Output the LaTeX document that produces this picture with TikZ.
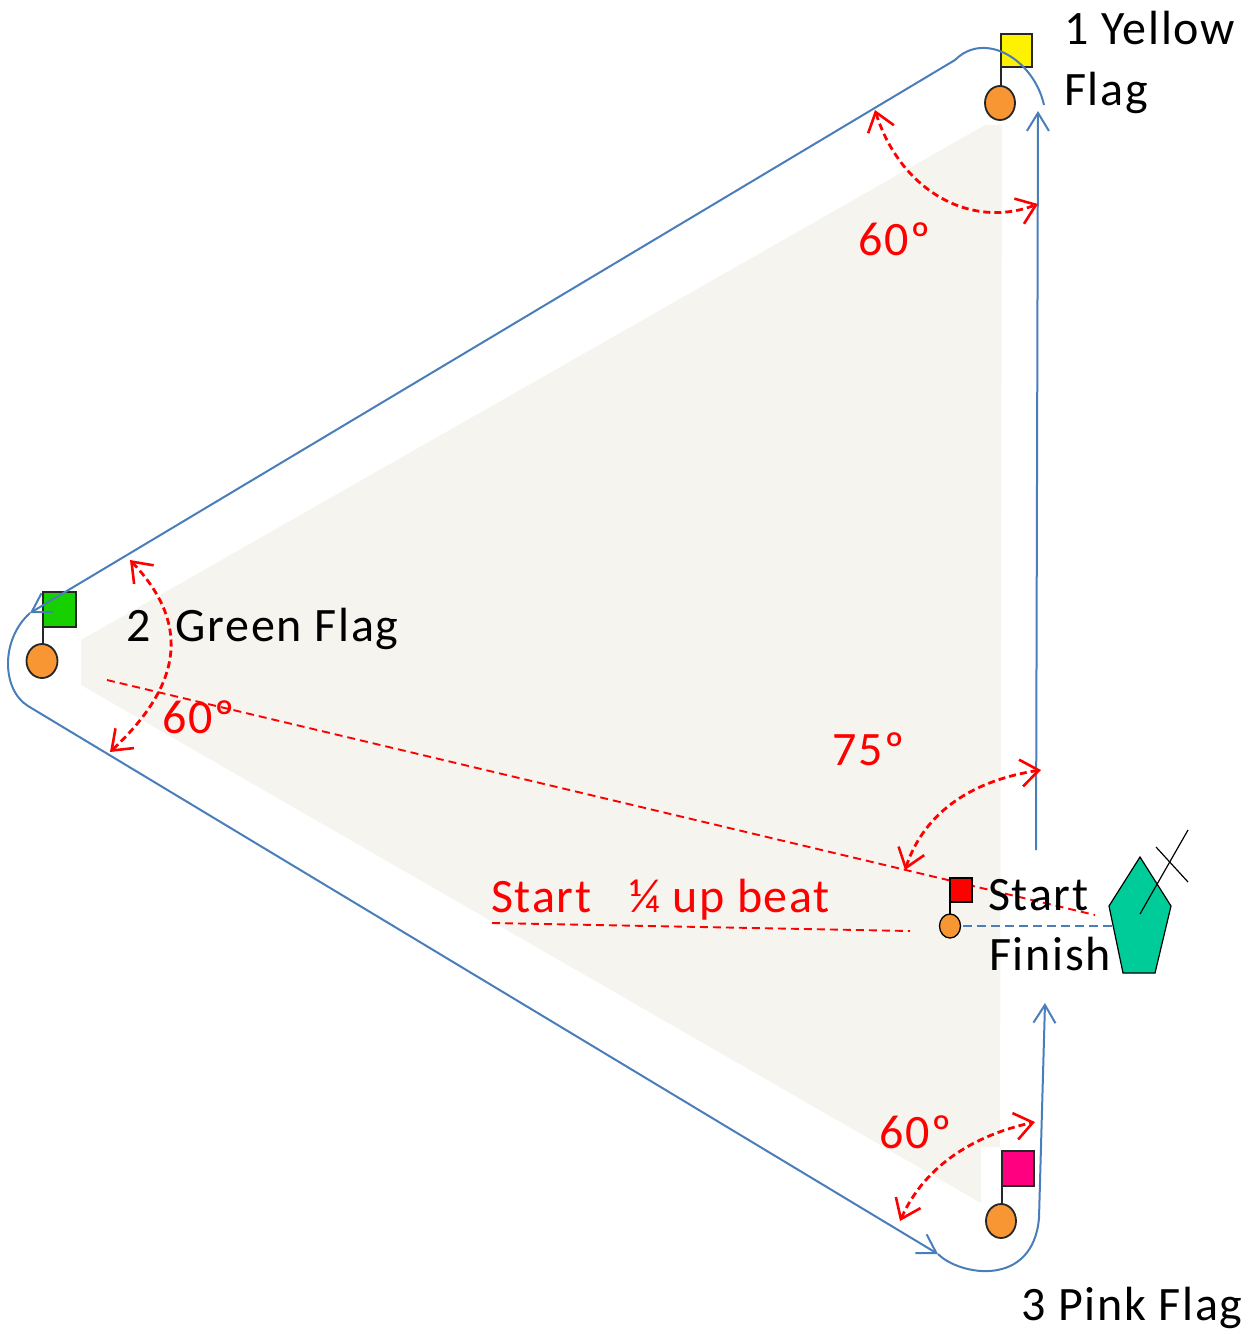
\documentclass[tikz,border=0pt]{standalone}
\usepackage{fontspec}
\setmainfont[LetterSpace=3.6]{Carlito}
\usetikzlibrary{arrows.meta}
\definecolor{bluel}{HTML}{4A7EBB}
\definecolor{sand}{HTML}{F5F4EF}
\definecolor{orangec}{HTML}{F79632}
\definecolor{greenf}{HTML}{17D000}
\definecolor{pinkf}{HTML}{FF0080}
\definecolor{boatc}{HTML}{00CC99}
\tikzset{
  bluepath/.style={draw=bluel,line width=2pt},
  bluetip/.style={-{Straight Barb[length=18pt,width=22pt,line width=2pt]}},
  redarc/.style={draw=red,line width=2.8pt,dash pattern=on 7pt off 4pt,
    {Straight Barb[length=18pt,width=27pt,line width=2.6pt]}-{Straight Barb[length=18pt,width=27pt,line width=2.6pt]}},
  redline/.style={draw=red,line width=1.9pt,dash pattern=on 8pt off 5pt},
  flagc/.style={draw=black!85,line width=1.8pt},
  lab/.style={anchor=base west,inner sep=0pt,font=\fontsize{48pt}{48pt}\selectfont},
  redlab/.style={lab,text=red},
}
\begin{document}
\begin{tikzpicture}[x=1pt,y=-1pt]
\useasboundingbox (0,0) rectangle (1251,1334);
\fill[sand] (985,125) -- (1002,125) -- (1000,1147) -- (981,1147) -- (981,1203) -- (81,685) -- (81,640) -- cycle;
% coordinates
\coordinate (b1s) at (1036,850);
\coordinate (b1e) at (1038,111);
\coordinate (b2s) at (1044,105);
\coordinate (b2e) at (30,613);
\coordinate (b3e) at (938,1254);
\coordinate (b4e) at (1045,1003);
% dashed lines
\coordinate (l1s) at (107,680);
\coordinate (l1e) at (1095,915);
\coordinate (l2s) at (492,923);
\coordinate (l2e) at (910,931);
\coordinate (l3s) at (963,926);
\coordinate (l3e) at (1113,926);
\draw[redline] (l1s) -- (l1e);
\draw[redline] (l2s) -- (l2e);
% flags
\draw[flagc,fill=yellow] (1001,34) rectangle (1032,67);
\draw[flagc] (1001,67) -- (1001,87);
\draw[flagc,fill=orangec] (1000,103) ellipse (15 and 17);
\draw[flagc,fill=greenf] (43,592) rectangle (76,627);
\draw[flagc] (43,627) -- (43,645);
\draw[flagc,fill=orangec] (42,661) ellipse (15.5 and 17);
\draw[flagc,fill=pinkf] (1002,1151) rectangle (1034,1186);
\draw[flagc] (1002,1186) -- (1002,1205);
\draw[flagc,fill=orangec] (1001,1221) ellipse (15 and 17);
\draw[black,line width=1.3pt,fill=red] (950,878) rectangle (972,902);
\draw[black,line width=1.3pt] (950,902) -- (950,914);
\draw[black,line width=1.3pt,fill=orangec] (950,926) ellipse (10.5 and 12);
% boat
\draw[black,line width=1.2pt,fill=boatc] (1140,857) -- (1109,906) -- (1123,973) -- (1155,973) -- (1171,906) -- cycle;
\draw[black,line width=1.2pt] (1140,914) -- (1188,830);
\draw[black,line width=1.2pt] (1156,847) -- (1188,882);
\draw[draw=bluel,line width=1.8pt,dash pattern=on 9pt off 5pt] (l3s) -- (l3e);
% blue course
\draw[bluepath,bluetip] (b1s) -- (b1e);
\draw[bluepath,bluetip] (b2s) .. controls (1034,60) and (985,30) .. (955,60) -- (b2e);
\draw[bluepath,bluetip] (b2e) .. controls (0,640) and (2,690) .. (28,706) -- (b3e);
\draw[bluepath,bluetip] (b3e) .. controls (960,1276) and (1033,1288) .. (1039,1218) -- (b4e);
% texts
\node[lab] (t1) at (1064,44) {1 Yellow};
\node[lab] (t1b) at (1064,105) {Flag};
\node[lab] (t2) at (126,641) {2\ \ Green Flag};
\node[lab] (t3) at (1021,1320) {3 Pink Flag};
\node[lab] (ts) at (988,910) {Start};
\node[lab] (tf) at (989,970) {Finish};
\node[redlab] (a1) at (858,255) {60º};
\node[redlab] (a2) at (162,733) {60º};
\node[redlab] (a3) at (879,1148) {60º};
\node[redlab] (a4) at (832,765) {75º};
\node[redlab] (sb) at (491,912) {Start\ \ \ ¼ up beat};
% angle arcs
\coordinate (r1a) at (875,110);
\coordinate (r1b) at (1038,204);
\coordinate (r2a) at (130,560);
\coordinate (r2b) at (110,752);
\coordinate (r3a) at (905,870);
\coordinate (r3b) at (1041,770);
\coordinate (r4a) at (900,1221);
\coordinate (r4b) at (1035,1122);
\draw[redarc] (r1a) .. controls (900,190) and (970,230) .. (r1b);
\draw[redarc] (r2a) .. controls (187,620) and (187,680) .. (r2b);
\draw[redarc] (r3a) .. controls (925,810) and (975,780) .. (r3b);
\draw[redarc] (r4a) .. controls (925,1165) and (975,1135) .. (r4b);
\end{tikzpicture}
\end{document}
